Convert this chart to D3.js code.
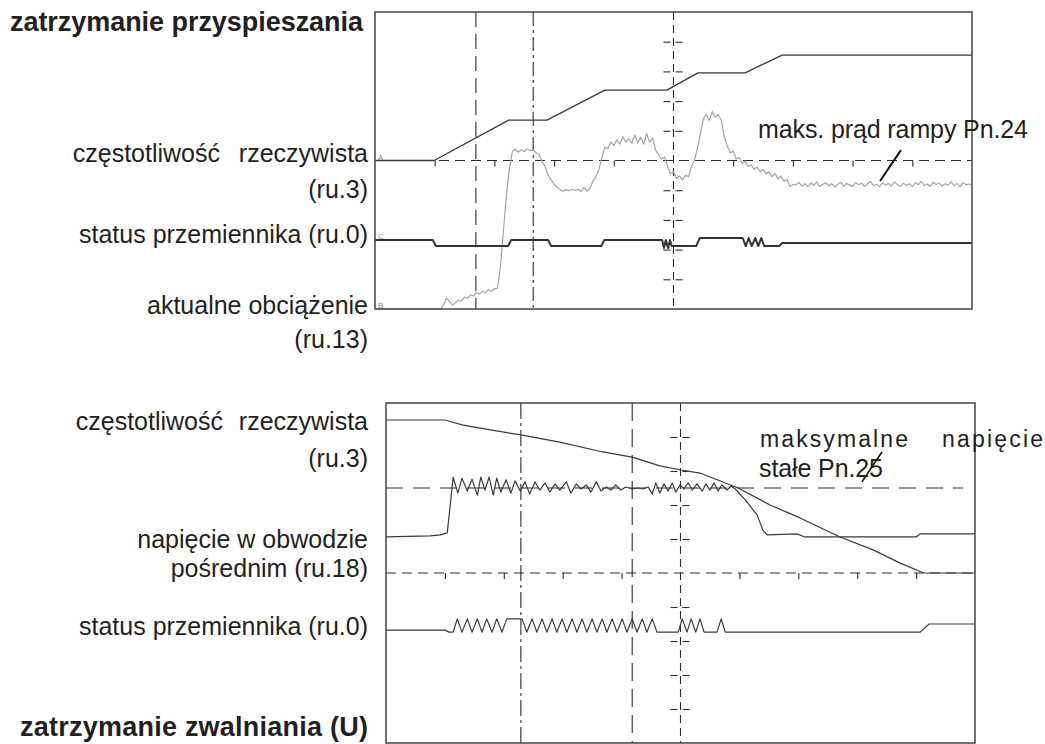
<!DOCTYPE html>
<html>
<head>
<meta charset="utf-8">
<script src="https://cdn.jsdelivr.net/npm/d3@7"></script>
<style>
  body { margin: 0; background: #fff; }
  svg { display: block; font-family: "Liberation Sans", Arial, sans-serif; }
</style>
</head>
<body>
<svg id="chart" width="1045" height="744"></svg>
<script>
// ---- Oscilloscope records: time in divisions (0-10), level in divisions (0-10, bottom = 0) ----

// Acceleration stop record
const accelFreq = [[0, 5.0], [0.99, 5.0], [2.24, 6.36], [2.88, 6.36], [3.85, 7.37], [4.89, 7.37],
  [5.41, 7.95], [6.20, 7.95], [6.82, 8.55], [10, 8.55]];

// load samples, one every 0.05 division
const accelLoadStep = 0.05;
const accelLoad = [
  0, 0, 0, 0, 0, 0, 0, 0, 0, 0, 0, 0, 0, 0, 0, 0, 0, 0, 0, 0, 0, 0, 0,
  0.15, 0.37, 0.25, 0.13, 0.22, 0.30, 0.28, 0.40, 0.36, 0.48, 0.44, 0.55, 0.50, 0.60, 0.55, 0.66, 0.60, 0.68, 0.70,
  1.40, 2.60, 3.80, 4.70, 5.30, 5.38, 5.28, 5.36, 5.30, 5.40, 5.32, 5.35, 5.26, 5.20,
  4.95, 4.80, 4.50, 4.35, 4.20, 4.10, 4.02, 3.97, 4.02, 3.98, 4.04, 3.99, 4.03, 3.96, 4.10, 3.97, 4.05,
  4.30, 4.45, 4.70, 5.10, 5.45, 5.40, 5.62, 5.50, 5.70, 5.55, 5.80, 5.62, 5.74, 5.58, 5.85, 5.60, 5.78, 5.55, 5.90, 5.62, 5.75,
  5.35, 5.20, 5.05, 5.12, 4.80, 4.55, 4.62, 4.40, 4.48, 4.35, 4.50, 4.45,
  4.80, 5.00, 5.40, 5.90, 6.40, 6.55, 6.35, 6.65, 6.45, 6.55, 6.35,
  5.80, 5.50, 5.25, 5.32, 5.05, 5.10, 4.90, 4.98, 4.80, 4.86, 4.70, 4.78, 4.62, 4.70, 4.55, 4.62, 4.45, 4.56, 4.38, 4.47, 4.30, 4.36, 4.12, 4.20,
  4.18, 4.26, 4.14, 4.22, 4.12, 4.24, 4.16, 4.28, 4.13, 4.20, 4.25, 4.15, 4.22, 4.11, 4.19, 4.27, 4.14, 4.23, 4.17, 4.12,
  4.26, 4.18, 4.24, 4.13, 4.21, 4.29, 4.15, 4.20, 4.12, 4.25, 4.17, 4.23, 4.14, 4.28, 4.19, 4.13, 4.24, 4.16, 4.22, 4.11,
  4.26, 4.18, 4.30, 4.15, 4.21, 4.13, 4.27, 4.19, 4.24, 4.14, 4.22, 4.17, 4.28, 4.15, 4.23, 4.12, 4.25, 4.18, 4.21, 4.16
];

const accelStatus = [[0, 2.32], [0.97, 2.32], [1.02, 2.12], [2.23, 2.12], [2.28, 2.32], [2.90, 2.32],
  [2.95, 2.12], [3.79, 2.12], [3.84, 2.32], [4.81, 2.32], [4.84, 2.05], [4.87, 2.32], [4.91, 2.05],
  [4.94, 2.32], [4.97, 2.12], [5.38, 2.12], [5.44, 2.39], [6.16, 2.39], [6.21, 2.12], [6.26, 2.39],
  [6.31, 2.12], [6.37, 2.39], [6.42, 2.12], [6.47, 2.39], [6.52, 2.12], [6.77, 2.12], [6.82, 2.22], [10, 2.22]];

const accelMarkers = [1.69, 2.65];          // cursor positions
const accelPointer = [[8.46, 4.31], [8.81, 5.35]];

// Deceleration stop record
const decelFreq = [[0, 9.50], [1.0, 9.50], [1.31, 9.35], [1.77, 9.21], [2.29, 9.06], [2.95, 8.85],
  [3.68, 8.56], [4.18, 8.41], [4.65, 8.15], [5.01, 8.03], [5.33, 7.94], [5.98, 7.50], [6.52, 7.00],
  [7.03, 6.62], [7.71, 6.06], [8.27, 5.68], [8.73, 5.29], [9.13, 5.00], [10, 5.00]];

const decelDcBus = [[0, 6.06], [0.75, 6.09], [0.92, 6.12], [1.04, 6.18],
  [1.14, 7.82], [1.22, 7.35], [1.29, 7.79], [1.38, 7.41], [1.46, 7.76], [1.55, 7.29], [1.61, 7.82],
  [1.68, 7.44], [1.75, 7.82], [1.82, 7.29], [1.88, 7.79], [1.95, 7.38], [2.04, 7.74], [2.12, 7.35],
  [2.19, 7.71], [2.28, 7.41], [2.36, 7.68], [2.44, 7.32], [2.53, 7.68], [2.61, 7.44], [2.70, 7.65],
  [2.78, 7.38], [2.87, 7.62], [2.95, 7.44], [3.06, 7.68], [3.14, 7.35], [3.23, 7.62], [3.31, 7.47],
  [3.40, 7.59], [3.48, 7.38], [3.57, 7.68], [3.65, 7.41], [3.74, 7.53], [3.82, 7.44], [3.90, 7.59],
  [3.99, 7.44], [4.07, 7.53], [4.18, 7.47], [4.28, 7.50], [4.36, 7.47], [4.45, 7.53], [4.52, 7.32],
  [4.58, 7.65], [4.65, 7.35], [4.72, 7.62], [4.79, 7.41], [4.86, 7.65], [4.92, 7.38], [4.99, 7.59],
  [5.06, 7.47], [5.13, 7.65], [5.20, 7.44], [5.28, 7.62], [5.37, 7.41], [5.43, 7.62], [5.50, 7.44],
  [5.57, 7.65], [5.64, 7.41], [5.70, 7.59], [5.79, 7.44], [5.86, 7.56], [5.93, 7.47],
  [6.10, 7.15], [6.21, 6.91], [6.30, 6.71], [6.40, 6.26], [6.47, 6.12], [6.98, 6.15], [7.11, 6.06],
  [9.00, 6.06], [9.07, 6.15], [10, 6.15]];

const decelStatus = [[0, 3.32], [1.00, 3.32], [1.07, 3.26], [1.14, 3.26],
  [1.21, 3.65], [1.29, 3.26], [1.38, 3.65], [1.46, 3.26], [1.55, 3.65], [1.63, 3.26], [1.71, 3.65],
  [1.80, 3.26], [1.88, 3.65], [1.97, 3.26], [2.05, 3.65], [2.31, 3.65],
  [2.39, 3.26], [2.48, 3.65], [2.56, 3.26], [2.65, 3.65], [2.73, 3.26], [2.82, 3.65], [2.90, 3.26],
  [2.99, 3.65], [3.07, 3.26], [3.16, 3.65], [3.24, 3.26], [3.33, 3.65], [3.41, 3.26], [3.50, 3.65],
  [3.58, 3.26], [3.67, 3.65], [3.75, 3.26], [3.84, 3.65], [3.92, 3.26], [4.01, 3.65], [4.09, 3.26],
  [4.18, 3.65], [4.26, 3.26], [4.35, 3.65], [4.43, 3.26], [4.52, 3.65], [4.60, 3.26], [4.96, 3.26],
  [5.03, 3.65], [5.11, 3.26], [5.18, 3.65], [5.26, 3.26], [5.33, 3.65], [5.40, 3.26], [5.62, 3.26],
  [5.69, 3.65], [5.76, 3.26], [9.07, 3.26], [9.22, 3.50], [10, 3.50]];

const decelMarkers = [2.29, 4.18];
const decelRef = 7.50;                       // DC link voltage limit (Pn.25)
const decelRefEnd = 9.80;
const decelPointer = [[8.08, 7.68], [8.42, 8.56]];

const gridTicks = [1, 2, 3, 4, 6, 7, 8, 9];

// ---- Layout ----
const svg = d3.select('#chart');
const topBox = { x: 375, y: 12, w: 597, h: 297 };
const botBox = { x: 386, y: 403, w: 589, h: 340 };

function scalesFor(b) {
  return {
    x: d3.scaleLinear().domain([0, 10]).range([b.x, b.x + b.w]),
    y: d3.scaleLinear().domain([0, 10]).range([b.y + b.h, b.y])
  };
}

const INK = '#2b2b2b';

function graticule(g, s, tickLen) {
  const cx = s.x(5), cy = s.y(5);
  // horizontal centre line with division ticks
  g.append('line')
    .attr('x1', s.x(0)).attr('x2', s.x(10)).attr('y1', cy).attr('y2', cy)
    .attr('stroke', INK).attr('stroke-width', 1.1).attr('stroke-dasharray', '10,6');
  const hx = g.append('g').attr('transform', `translate(0,${cy})`)
    .call(d3.axisBottom(s.x).tickValues(gridTicks).tickSize(6).tickFormat(''));
  hx.select('.domain').remove();
  hx.selectAll('line').attr('stroke', INK).attr('stroke-width', 1.1);

  // vertical centre line with division ticks either side
  g.append('line')
    .attr('x1', cx).attr('x2', cx).attr('y1', s.y(10)).attr('y2', s.y(0))
    .attr('stroke', INK).attr('stroke-width', 1.1).attr('stroke-dasharray', '8,5');
  const vl = g.append('g').attr('transform', `translate(${cx - 3},0)`)
    .call(d3.axisLeft(s.y).tickValues(gridTicks).tickSize(tickLen).tickFormat(''));
  const vr = g.append('g').attr('transform', `translate(${cx + 2},0)`)
    .call(d3.axisRight(s.y).tickValues(gridTicks).tickSize(tickLen).tickFormat(''));
  [vl, vr].forEach(a => {
    a.select('.domain').remove();
    a.selectAll('line').attr('stroke', INK).attr('stroke-width', 1.1);
  });
}

function markers(g, s, xs, dashes) {
  g.selectAll('line.marker').data(xs).join('line').attr('class', 'marker')
    .attr('x1', d => s.x(d)).attr('x2', d => s.x(d))
    .attr('y1', s.y(10)).attr('y2', s.y(0))
    .attr('stroke', INK).attr('stroke-width', 1.1)
    .attr('stroke-dasharray', (d, i) => dashes[i]);
}

function frame(g, b) {
  g.append('rect').attr('x', b.x).attr('y', b.y).attr('width', b.w).attr('height', b.h)
    .attr('fill', 'none').attr('stroke', '#444').attr('stroke-width', 1.5);
}

function trace(g, s, data, color, width) {
  const line = d3.line().x(d => s.x(d[0])).y(d => s.y(d[1]));
  g.append('path').datum(data).attr('d', line)
    .attr('fill', 'none').attr('stroke', color).attr('stroke-width', width)
    .attr('stroke-linejoin', 'round');
}

function label(x, y, text, opts = {}) {
  const t = svg.append('text').attr('x', x).attr('y', y).text(text)
    .attr('font-size', opts.size || 25).attr('fill', '#231f20')
    .attr('text-anchor', opts.anchor || 'end')
    .attr('font-weight', opts.bold ? 'bold' : 'normal');
  if (opts.len) t.attr('textLength', opts.len).attr('lengthAdjust', 'spacing');
  return t;
}

// ---- Upper record: acceleration stop ----
const sT = scalesFor(topBox);
const gT = svg.append('g');
graticule(gT, sT, 7);
markers(gT, sT, accelMarkers, ['15,7', '14,4,3,4']);
trace(gT, sT, accelLoad.map((v, i) => [i * accelLoadStep, v]), '#a3a3a3', 1.2);
trace(gT, sT, accelFreq, '#3a3a3a', 1.3);
trace(gT, sT, accelStatus, '#333', 2);
frame(gT, topBox);
gT.selectAll('text.chan').data([['A', 5], ['C', 2.32], ['B', 0]]).join('text')
  .attr('class', 'chan').attr('x', topBox.x + 3).attr('y', d => sT.y(d[1]) - 1)
  .attr('font-size', 8).attr('fill', '#888').text(d => d[0]);
gT.append('line').datum(accelPointer)
  .attr('x1', d => sT.x(d[0][0])).attr('y1', d => sT.y(d[0][1]))
  .attr('x2', d => sT.x(d[1][0])).attr('y2', d => sT.y(d[1][1]))
  .attr('stroke', '#111').attr('stroke-width', 2);
label(758, 138, 'maks. prąd rampy Pn.24', { anchor: 'start', len: 270 });

label(363, 31, 'zatrzymanie przyspieszania', { bold: true, size: 27, len: 353 });
label(220, 162, 'częstotliwość');
label(368, 162, 'rzeczywista');
label(368, 198, '(ru.3)');
label(368, 243, 'status przemiennika (ru.0)');
label(368, 314, 'aktualne obciążenie');
label(368, 348, '(ru.13)');

// ---- Lower record: deceleration stop ----
const sB = scalesFor(botBox);
const gB = svg.append('g');
graticule(gB, sB, 7);
markers(gB, sB, decelMarkers, ['16,4,3,4', '18,8']);
gB.append('line')
  .attr('x1', sB.x(0)).attr('x2', sB.x(decelRefEnd))
  .attr('y1', sB.y(decelRef)).attr('y2', sB.y(decelRef))
  .attr('stroke', INK).attr('stroke-width', 1.1).attr('stroke-dasharray', '17,10');
trace(gB, sB, decelFreq, '#3a3a3a', 1.2);
trace(gB, sB, decelDcBus, '#3a3a3a', 1.2);
trace(gB, sB, decelStatus, '#3a3a3a', 1.2);
frame(gB, botBox);
gB.append('line').datum(decelPointer)
  .attr('x1', d => sB.x(d[0][0])).attr('y1', d => sB.y(d[0][1]))
  .attr('x2', d => sB.x(d[1][0])).attr('y2', d => sB.y(d[1][1]))
  .attr('stroke', '#111').attr('stroke-width', 1.6);
label(760, 447, 'maksymalne', { anchor: 'start', size: 23, len: 148 });
label(942, 447, 'napięcie', { anchor: 'start', size: 23, len: 101 });
label(759, 477, 'stałe Pn.25', { anchor: 'start', len: 124 });

label(223, 430, 'częstotliwość');
label(368, 430, 'rzeczywista');
label(368, 467, '(ru.3)');
label(368, 548, 'napięcie w obwodzie');
label(368, 577, 'pośrednim (ru.18)');
label(368, 635, 'status przemiennika (ru.0)');
label(368, 736, 'zatrzymanie zwalniania (U)', { bold: true, size: 27, len: 348 });
</script>
</body>
</html>
